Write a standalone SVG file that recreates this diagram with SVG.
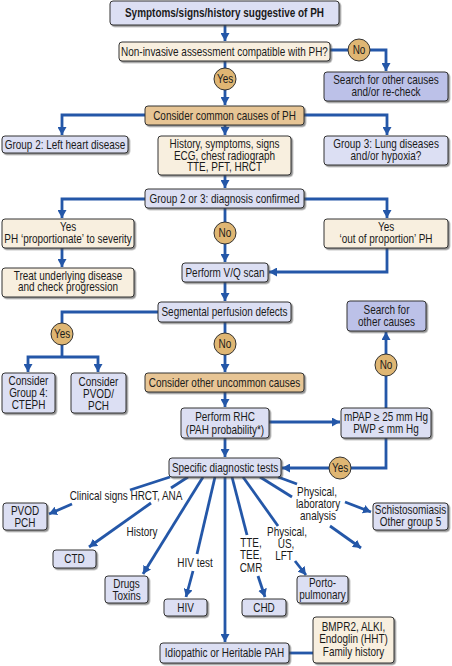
<svg xmlns="http://www.w3.org/2000/svg" width="452" height="666" viewBox="0 0 452 666">
<defs>
<filter id="sh" x="-10%" y="-10%" width="130%" height="140%">
<feDropShadow dx="1.5" dy="1.5" stdDeviation="0.7" flood-color="#444" flood-opacity="0.6"/>
</filter>
<marker id="ar" markerUnits="userSpaceOnUse" markerWidth="9" markerHeight="9" refX="8" refY="4.5" orient="auto">
<path d="M0,0 L8,4.5 L0,9 z" fill="#2457a8"/>
</marker>
</defs>
<style>
text{font-family:"Liberation Sans",Arial,sans-serif;font-size:12px;fill:#1a1a1a;text-anchor:middle;dominant-baseline:central;transform-box:fill-box;transform-origin:center;transform:scaleX(0.83)}
.b{font-weight:bold}
rect{stroke:#333;stroke-width:1;filter:url(#sh)}
.lav{fill:#dcdff3}
.dk{fill:#bcc1e8}
.cr{fill:#f8efdf}
.tan{fill:#e7c595}
circle{fill:#dfb673;stroke:#333;stroke-width:1}
.c path,.c line,.c polyline{stroke:#2457a8;stroke-width:2.8;fill:none}
.a{marker-end:url(#ar)}
</style>

<g id="connectors" class="c">
<line class="a" x1="225" y1="25" x2="225" y2="41"/>
<polyline class="a" points="330,50 386,50 386,71"/>
<line class="a" x1="225" y1="61" x2="225" y2="105"/>
<polyline class="a" points="145,115 62,115 62,135"/>
<polyline class="a" points="304,115 387,115 387,135"/>
<line class="a" x1="225" y1="125" x2="225" y2="135"/>
<line class="a" x1="225" y1="175" x2="225" y2="188"/>
<polyline class="a" points="145,199 62,199 62,218"/>
<polyline class="a" points="304,199 387,199 387,218"/>
<line class="a" x1="225" y1="208" x2="225" y2="262"/>
<line class="a" x1="62" y1="248" x2="62" y2="267"/>
<polyline class="a" points="387,248 387,272 269,272"/>
<line class="a" x1="225" y1="282" x2="225" y2="301"/>
<polyline points="158,312 62,312 62,357"/>
<polyline class="a" points="62,357 28,357 28,372"/>
<polyline class="a" points="62,357 98,357 98,372"/>
<line class="a" x1="225" y1="322" x2="225" y2="372"/>
<line class="a" x1="225" y1="392" x2="225" y2="407"/>
<line class="a" x1="269" y1="422" x2="340" y2="422"/>
<line class="a" x1="386" y1="408" x2="386" y2="332"/>
<polyline class="a" points="386,438 386,468 282,468"/>
<line class="a" x1="225" y1="438" x2="225" y2="457"/>
<line x1="170" y1="477" x2="130" y2="490"/>
<line class="a" x1="72" y1="504" x2="49" y2="514"/>
<line x1="188" y1="477" x2="171" y2="488"/>
<line class="a" x1="151" y1="503" x2="89" y2="547"/>
<line class="a" x1="203" y1="477" x2="143" y2="574"/>
<line x1="215" y1="477" x2="197" y2="554"/>
<line class="a" x1="193" y1="571" x2="186" y2="597"/>
<line class="a" x1="225" y1="477" x2="225" y2="642"/>
<line x1="232" y1="477" x2="247" y2="535"/>
<line class="a" x1="258" y1="576" x2="265" y2="597"/>
<line x1="243" y1="477" x2="278" y2="526"/>
<line class="a" x1="295" y1="561" x2="306" y2="575"/>
<line x1="260" y1="477" x2="292" y2="497"/>
<line x1="278" y1="477" x2="297" y2="484"/>
<line class="a" x1="345" y1="502" x2="371" y2="512"/>
<line class="a" x1="330" y1="526" x2="361" y2="548"/>
<line x1="289" y1="653" x2="313" y2="653"/>
</g>

<g id="n_start"><rect class="lav" x="110" y="1" width="229" height="24" rx="3"/><text class="b" x="224.5" y="13">Symptoms/signs/history suggestive of PH</text></g>
<g id="n_noninv"><rect class="cr" x="119" y="42" width="211" height="19" rx="3"/><text x="224.5" y="51.5">Non-invasive assessment compatible with PH?</text></g>
<g id="c_no1"><circle cx="359" cy="50" r="11"/><text x="359" y="50">No</text></g>
<g id="n_search1"><rect class="dk" x="324" y="72" width="124" height="29" rx="3"/><text x="386" y="80">Search for other causes</text><text x="386" y="92">and/or re-check</text></g>
<g id="c_yes1"><circle cx="225" cy="79" r="11"/><text x="225" y="79">Yes</text></g>
<g id="n_common"><rect class="tan" x="145" y="106" width="159" height="19" rx="3"/><text x="224.5" y="115.5">Consider common causes of PH</text></g>
<g id="n_g2"><rect class="lav" x="2" y="136" width="126" height="17" rx="3"/><text x="65" y="145">Group 2: Left heart disease</text></g>
<g id="n_hist"><rect class="cr" x="158" y="136" width="133" height="39" rx="3"/><text x="224.5" y="144">History, symptoms, signs</text><text x="224.5" y="155.5">ECG, chest radiograph</text><text x="224.5" y="167">TTE, PFT, HRCT</text></g>
<g id="n_g3"><rect class="lav" x="324" y="136" width="124" height="29" rx="3"/><text x="386" y="144">Group 3: Lung diseases</text><text x="386" y="155.5">and/or hypoxia?</text></g>
<g id="n_g23"><rect class="lav" x="145" y="189" width="159" height="19" rx="3"/><text x="224.5" y="198.5">Group 2 or 3: diagnosis confirmed</text></g>
<g id="n_prop"><rect class="cr" x="2" y="219" width="132" height="29" rx="3"/><text x="68" y="227">Yes</text><text x="68" y="239">PH ‘proportionate’ to severity</text></g>
<g id="c_no2"><circle cx="225" cy="233" r="11"/><text x="225" y="233">No</text></g>
<g id="n_outprop"><rect class="cr" x="324" y="219" width="124" height="29" rx="3"/><text x="386" y="227">Yes</text><text x="386" y="239">‘out of proportion’ PH</text></g>
<g id="n_treat"><rect class="cr" x="2" y="268" width="132" height="29" rx="3"/><text x="68" y="275.5">Treat underlying disease</text><text x="68" y="287">and check progression</text></g>
<g id="n_vq"><rect class="lav" x="182" y="263" width="86" height="19" rx="3"/><text x="225" y="272.5">Perform V/Q scan</text></g>
<g id="n_seg"><rect class="lav" x="158" y="302" width="133" height="20" rx="3"/><text x="224.5" y="312">Segmental perfusion defects</text></g>
<g id="c_yes2"><circle cx="62" cy="334" r="11"/><text x="62" y="334">Yes</text></g>
<g id="c_no3"><circle cx="225" cy="344" r="11"/><text x="225" y="344">No</text></g>
<g id="n_search2"><rect class="dk" x="347" y="301" width="79" height="30" rx="3"/><text x="386.5" y="309.5">Search for</text><text x="386.5" y="321.5">other causes</text></g>
<g id="c_no4"><circle cx="386" cy="365" r="11"/><text x="386" y="365">No</text></g>
<g id="n_cg4"><rect class="lav" x="2" y="373" width="53" height="40" rx="3"/><text x="28.5" y="381">Consider</text><text x="28.5" y="393">Group 4:</text><text x="28.5" y="405">CTEPH</text></g>
<g id="n_cpvod"><rect class="lav" x="71" y="373" width="55" height="40" rx="3"/><text x="98.5" y="382">Consider</text><text x="98.5" y="394">PVOD/</text><text x="98.5" y="406">PCH</text></g>
<g id="n_other"><rect class="tan" x="145" y="373" width="159" height="19" rx="3"/><text x="224.5" y="382.5">Consider other uncommon causes</text></g>
<g id="n_rhc"><rect class="lav" x="181" y="408" width="88" height="30" rx="3"/><text x="225" y="417">Perform RHC</text><text x="225" y="429.5">(PAH probability*)</text></g>
<g id="n_mpap"><rect class="lav" x="341" y="408" width="90" height="30" rx="3"/><text x="386" y="416.5">mPAP ≥ 25 mm Hg</text><text x="386" y="428.5">PWP ≤ mm Hg</text></g>
<g id="c_yes3"><circle cx="340" cy="468" r="11"/><text x="340" y="468">Yes</text></g>
<g id="n_specific"><rect class="lav" x="169" y="458" width="112" height="19" rx="3"/><text x="225" y="467.5">Specific diagnostic tests</text></g>
<g id="n_pvod2"><rect class="lav" x="3" y="503" width="44" height="27" rx="3"/><text x="25" y="511">PVOD</text><text x="25" y="523">PCH</text></g>
<g id="n_ctd"><rect class="lav" x="53" y="550" width="43" height="18" rx="3"/><text x="74.5" y="559">CTD</text></g>
<g id="n_drugs"><rect class="lav" x="105" y="576" width="43" height="27" rx="3"/><text x="126.5" y="584">Drugs</text><text x="126.5" y="595.5">Toxins</text></g>
<g id="n_hiv"><rect class="lav" x="164" y="599" width="43" height="17" rx="3"/><text x="185.5" y="608">HIV</text></g>
<g id="n_chd"><rect class="lav" x="242" y="599" width="44" height="17" rx="3"/><text x="264" y="608">CHD</text></g>
<g id="n_porto"><rect class="lav" x="297" y="576" width="51" height="27" rx="3"/><text x="322.5" y="582.5">Porto-</text><text x="322.5" y="594.5">pulmonary</text></g>
<g id="n_schisto"><rect class="lav" x="373" y="503" width="75" height="27" rx="3"/><text x="410.5" y="509.5">Schistosomiasis</text><text x="410.5" y="521.5">Other group 5</text></g>
<g id="n_idio"><rect class="lav" x="160" y="643" width="129" height="20" rx="3"/><text x="224.5" y="653">Idiopathic or Heritable PAH</text></g>
<g id="n_bmpr"><rect class="cr" x="313" y="617" width="81" height="46" rx="3"/><text x="353.5" y="627">BMPR2, ALKI,</text><text x="353.5" y="639">Endoglin (HHT)</text><text x="353.5" y="651.5">Family history</text></g>

<g id="labels">
<text x="126" y="496">Clinical signs HRCT, ANA</text>
<text x="142" y="532">History</text>
<text x="195" y="563">HIV test</text>
<text x="251" y="542.5">TTE,</text><text x="251" y="555">TEE,</text><text x="251" y="567.5">CMR</text>
<text x="287" y="532">Physical,</text><text x="286" y="544">US,</text><text x="284" y="555.5">LFT</text>
<text x="317" y="492">Physical,</text><text x="318" y="503.5">laboratory</text><text x="318" y="515.5">analysis</text>
</g>
</svg>
